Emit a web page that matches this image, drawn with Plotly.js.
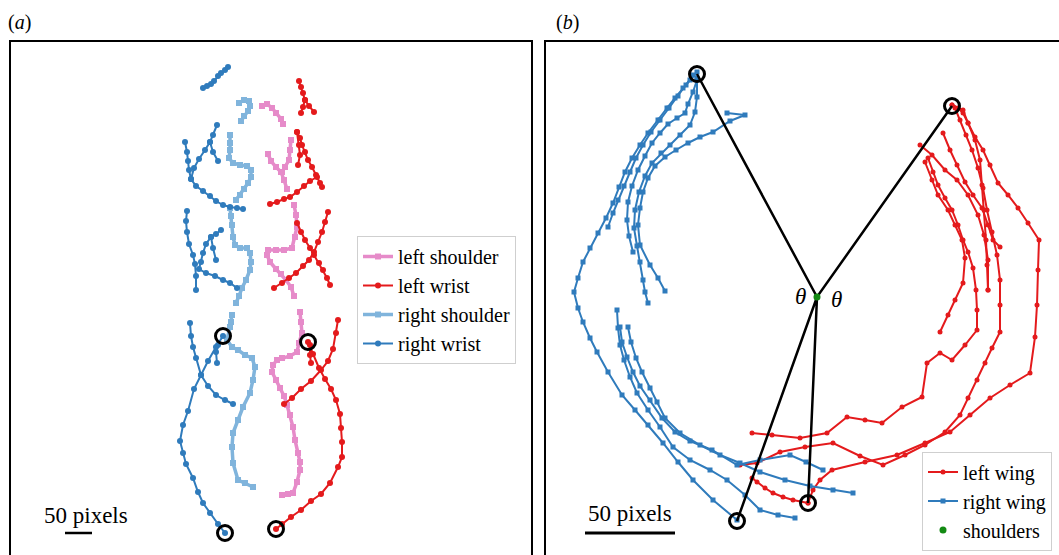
<!DOCTYPE html>
<html>
<head>
<meta charset="utf-8">
<script src="https://cdn.plot.ly/plotly-3.0.1.min.js"></script>
<style>html,body{margin:0;padding:0;background:#fff;}#chart{width:1059px;height:555px;}</style>
</head>
<body>
<div id="chart"></div>
<script>
// ---------- Panel (a): tracked positions (pixels), segments separated by null ----------
const rightWristX = [203,207,211,214,218,221,225,228,null,
  185,187,188,189,191,196,203,210,216,223,230,237,243,null,
  217,213,210,205,199,194,191,null,
  210,213,218,null,
  187,186,187,189,193,195,196,196,null,
  221,216,211,206,203,201,199,206,215,223,230,237,null,
  211,213,216,null,
  190,191,193,196,201,208,216,225,233,null,
  223,216,208,201,194,188,183,180,183,186,193,198,203,210,218,225,null,
  218,216,217];
const rightWristY = [88,86,84,81,76,73,70,67,null,
  142,152,161,170,179,186,191,196,201,205,207,208,209,null,
  125,135,142,150,159,168,179,null,
  142,152,161,null,
  211,221,232,244,255,264,276,290,null,
  230,234,237,244,253,262,269,273,276,280,283,288,null,
  237,248,260,null,
  323,336,347,358,375,386,395,400,404,null,
  336,347,361,375,389,411,425,441,453,464,478,492,503,513,524,533,null,
  345,352,363];

const leftWristX = [299,301,303,305,309,314,null,
  305,303,301,null,
  297,300,302,305,308,312,316,320,322,null,
  297,299,300,298,null,
  270,277,284,290,297,304,310,317,null,
  328,325,322,318,314,309,303,296,289,282,274,null,
  297,301,305,310,314,319,323,327,330,null,
  338,336,333,328,321,311,301,292,284,null,
  308,313,319,325,331,336,340,341,342,342,338,330,321,311,301,291,282,276,null,
  310,310,311];
const leftWristY = [81,87,93,100,106,112,null,
  100,107,113,null,
  132,138,145,152,160,167,175,183,187,null,
  132,145,155,165,null,
  204,202,199,197,192,186,181,177,null,
  212,222,232,242,252,260,266,273,278,283,288,null,
  223,232,240,248,255,263,270,278,285,null,
  320,333,349,361,370,381,389,398,404,null,
  342,354,368,379,389,400,414,428,442,457,467,483,494,501,510,517,524,529,null,
  345,355,363];

const leftShoulderX = [262,267,272,276,281,283,null,
  291,290,289,285,282,null,
  268,271,276,281,284,287,null,
  294,296,297,295,292,284,276,268,267,270,276,281,286,291,294,null,
  300,301,302,299,297,290,282,277,273,272,276,280,284,287,290,293,295,298,300,300,297,293,288,282];
const leftShoulderY = [106,104,108,113,119,124,null,
  140,150,160,167,172,null,
  154,161,167,172,180,189,null,
  205,215,227,237,248,250,250,250,255,262,269,274,280,287,296,null,
  312,322,333,343,352,356,358,360,365,372,380,388,396,405,415,427,440,453,462,470,482,493,494,495];

const rightShoulderX = [239,244,249,250,248,244,241,null,
  230,230,230,229,233,240,247,251,251,248,244,240,236,null,
  230,231,232,233,235,240,247,250,251,250,246,242,239,236,null,
  232,231,230,227,232,238,245,252,255,253,250,243,238,233,232,233,238,245,253];
const rightShoulderY = [103,100,101,106,111,116,121,null,
  135,143,150,158,163,165,166,170,177,183,189,195,200,null,
  208,216,225,237,245,248,248,253,262,270,280,288,296,303,null,
  315,322,327,340,347,350,355,358,367,380,393,407,420,433,447,463,480,483,487];

const circlesAX = [223,225,308,276];
const circlesAY = [336,533,342,529];

// ---------- Panel (b): wing tip trajectories (pixels) ----------
const rightWingX = [697,690,683,675,667,658,648,640,632,625,619,613,606,598,590,583,578,574,578,583,590,597,608,622,635,648,663,678,693,713,737,null,
  693,686,678,669,660,651,643,636,630,624,618,613,608,null,
  697,697,695,690,680,670,661,652,645,639,635,634,637,640,643,645,648,null,
  727,745,730,713,700,688,676,665,655,648,643,640,638,640,650,658,665,null,
  697,693,688,685,677,668,660,652,645,638,632,628,627,629,633,null,
  617,618,620,624,630,637,648,660,673,690,710,727,745,760,778,795,null,
  620,622,627,633,640,650,662,675,690,712,737,760,790,806,823,null,
  628,631,636,642,650,657,665,680,700,720,740,760,785,810,833,853];
const rightWingY = [72,80,88,98,108,120,133,145,158,172,187,203,218,233,248,262,278,292,308,322,338,352,372,395,410,425,443,462,480,500,520,null,
  75,85,96,108,120,132,145,158,172,186,200,213,227,null,
  78,97,112,125,135,145,153,163,176,192,210,228,246,262,280,292,303,null,
  113,115,121,132,137,143,150,157,166,178,192,208,225,245,265,278,291,null,
  80,92,104,113,118,124,133,143,156,170,186,202,220,236,252,null,
  310,328,345,360,377,393,410,427,447,460,470,480,495,510,515,518,null,
  327,342,357,372,386,400,418,432,441,450,465,460,455,462,470,null,
  327,342,358,372,388,402,418,433,445,455,463,472,480,486,490,493];

const leftWingX = [952,958,963,968,975,983,990,998,1008,1018,1028,1039,1038,1037,1035,1030,1010,990,970,950,925,897,865,832,820,813,808,null,
  955,960,966,972,978,983,987,992,997,1000,1000,1000,992,985,977,968,960,945,925,905,883,860,833,805,780,757,740,null,
  943,950,957,965,973,982,988,993,1000,null,
  920,932,945,957,968,978,984,988,988,null,
  928,933,938,945,952,958,963,968,973,976,977,977,965,952,940,927,922,902,882,865,847,827,800,772,752,null,
  925,932,938,948,955,962,965,963,955,948,940,null,
  952,963,968,975,980,982,984,986,987,988,null,
  752,757,765,773,783,793,808];
const leftWingY = [105,108,113,123,137,150,165,183,195,208,223,240,270,305,337,373,385,398,415,432,443,455,462,470,480,490,503,null,
  108,120,135,150,168,188,210,232,255,280,305,332,348,363,380,398,415,432,445,455,465,456,443,447,452,463,465,null,
  133,150,165,182,195,208,225,240,247,null,
  145,155,170,180,195,215,235,260,290,null,
  158,172,185,198,210,225,240,252,268,290,310,330,345,360,353,363,397,407,423,420,417,433,438,435,433,null,
  162,180,195,210,225,240,258,283,300,315,332,null,
  105,110,123,140,160,185,210,240,265,290,null,
  478,482,488,493,497,500,503];

const shoulderX = [817];
const shoulderY = [297];

const armLineX = [697,817,952,null,737,817,808];
const armLineY = [74,297,106,null,521,297,503];

const circlesBX = [697,952,737,808];
const circlesBY = [74,106,521,503];

const scaleBarA = [65,92,533];
const scaleBarB = [585,675,533];

// ---------- styling ----------
const BLUE = '#2f7bbc', LIGHTBLUE = '#80b4dc', PINK = '#e68bc9', RED = '#e41a1c', GREEN = '#138a13';
const SERIF = "'Liberation Serif', 'Times New Roman', Tinos, serif";

function path(name, xs, ys, color, symbol, msize, lw, xa, ya, legend) {
  return {type:'scatter', mode:'lines+markers', name:name, x:xs, y:ys, xaxis:xa, yaxis:ya,
    legend:legend, connectgaps:false, cliponaxis:true,
    line:{color:color, width:lw}, marker:{color:color, symbol:symbol, size:msize}, hoverinfo:'skip'};
}

const traces = [
  path('left shoulder', leftShoulderX, leftShoulderY, PINK, 'square', 6, 3.5, 'x', 'y', 'legend'),
  path('left wrist', leftWristX, leftWristY, RED, 'circle', 6, 2, 'x', 'y', 'legend'),
  path('right shoulder', rightShoulderX, rightShoulderY, LIGHTBLUE, 'square', 6, 3.5, 'x', 'y', 'legend'),
  path('right wrist', rightWristX, rightWristY, BLUE, 'circle', 6, 2, 'x', 'y', 'legend'),
  {type:'scatter', mode:'markers', x:circlesAX, y:circlesAY, xaxis:'x', yaxis:'y', showlegend:false,
    marker:{symbol:'circle-open', size:15, color:'#000', line:{width:3, color:'#000'}}, hoverinfo:'skip'},

  path('left wing', leftWingX, leftWingY, RED, 'circle', 5, 2, 'x2', 'y2', 'legend2'),
  path('right wing', rightWingX, rightWingY, BLUE, 'square', 5, 2, 'x2', 'y2', 'legend2'),
  {type:'scatter', mode:'lines', x:armLineX, y:armLineY, xaxis:'x2', yaxis:'y2', showlegend:false,
    line:{color:'#000', width:2.5}, hoverinfo:'skip'},
  {type:'scatter', mode:'markers', name:'shoulders', x:shoulderX, y:shoulderY, xaxis:'x2', yaxis:'y2',
    legend:'legend2', marker:{color:GREEN, size:7, symbol:'circle'}, hoverinfo:'skip'},
  {type:'scatter', mode:'markers', x:circlesBX, y:circlesBY, xaxis:'x2', yaxis:'y2', showlegend:false,
    marker:{symbol:'circle-open', size:15, color:'#000', line:{width:3, color:'#000'}}, hoverinfo:'skip'}
];

const W = 1059, H = 555;
const topY = 1 - 41/H;
const legendFont = {family:SERIF, size:20, color:'#000'};

const layout = {
  width:W, height:H, margin:{l:0, r:0, t:0, b:0},
  paper_bgcolor:'#fff', plot_bgcolor:'rgba(0,0,0,0)',
  font:{family:SERIF, color:'#000'},
  showlegend:true,
  xaxis:{domain:[10/W, 532/W], range:[10,532], visible:false, fixedrange:true},
  yaxis:{domain:[0, topY], range:[555,41], visible:false, fixedrange:true},
  xaxis2:{domain:[545/W, 1], range:[545,1059], visible:false, anchor:'y2', fixedrange:true},
  yaxis2:{domain:[0, topY], range:[555,41], visible:false, anchor:'x2', fixedrange:true},
  legend:{x:357/W, y:1-300/H, xanchor:'left', yanchor:'middle', bgcolor:'#fff',
    bordercolor:'#cfcfcf', borderwidth:1, font:legendFont, itemclick:false, itemdoubleclick:false},
  legend2:{x:922/W, y:1-501/H, xanchor:'left', yanchor:'middle', bgcolor:'#fff',
    bordercolor:'#cfcfcf', borderwidth:1, font:legendFont, itemclick:false, itemdoubleclick:false},
  shapes:[
    {type:'rect', xref:'paper', yref:'paper', x0:10/W, x1:532/W, y0:-0.1, y1:topY, line:{color:'#000', width:2}},
    {type:'rect', xref:'paper', yref:'paper', x0:545/W, x1:1.1, y0:-0.1, y1:topY, line:{color:'#000', width:2}},
    {type:'line', xref:'x', yref:'y', x0:scaleBarA[0], x1:scaleBarA[1], y0:scaleBarA[2], y1:scaleBarA[2], line:{color:'#000', width:2.5}},
    {type:'line', xref:'x2', yref:'y2', x0:scaleBarB[0], x1:scaleBarB[1], y0:scaleBarB[2], y1:scaleBarB[2], line:{color:'#000', width:3}}
  ],
  annotations:[
    {xref:'paper', yref:'paper', x:19/W, y:1-22/H, xanchor:'center', yanchor:'middle', text:'(<i>a</i>)', showarrow:false, font:{family:SERIF, size:20, color:'#000'}},
    {xref:'paper', yref:'paper', x:567/W, y:1-22/H, xanchor:'center', yanchor:'middle', text:'(<i>b</i>)', showarrow:false, font:{family:SERIF, size:20, color:'#000'}},
    {xref:'x', yref:'y', x:86, y:515, xanchor:'center', yanchor:'middle', text:'50 pixels', showarrow:false, font:{family:SERIF, size:23, color:'#000'}},
    {xref:'x2', yref:'y2', x:630, y:513, xanchor:'center', yanchor:'middle', text:'50 pixels', showarrow:false, font:{family:SERIF, size:23, color:'#000'}},
    {xref:'x2', yref:'y2', x:800, y:296, xanchor:'center', yanchor:'middle', text:'<i>θ</i>', showarrow:false, font:{family:SERIF, size:23, color:'#000'}},
    {xref:'x2', yref:'y2', x:836, y:299, xanchor:'center', yanchor:'middle', text:'<i>θ</i>', showarrow:false, font:{family:SERIF, size:23, color:'#000'}}
  ]
};

Plotly.newPlot('chart', traces, layout, {displayModeBar:false, staticPlot:true});
</script>
</body>
</html>
